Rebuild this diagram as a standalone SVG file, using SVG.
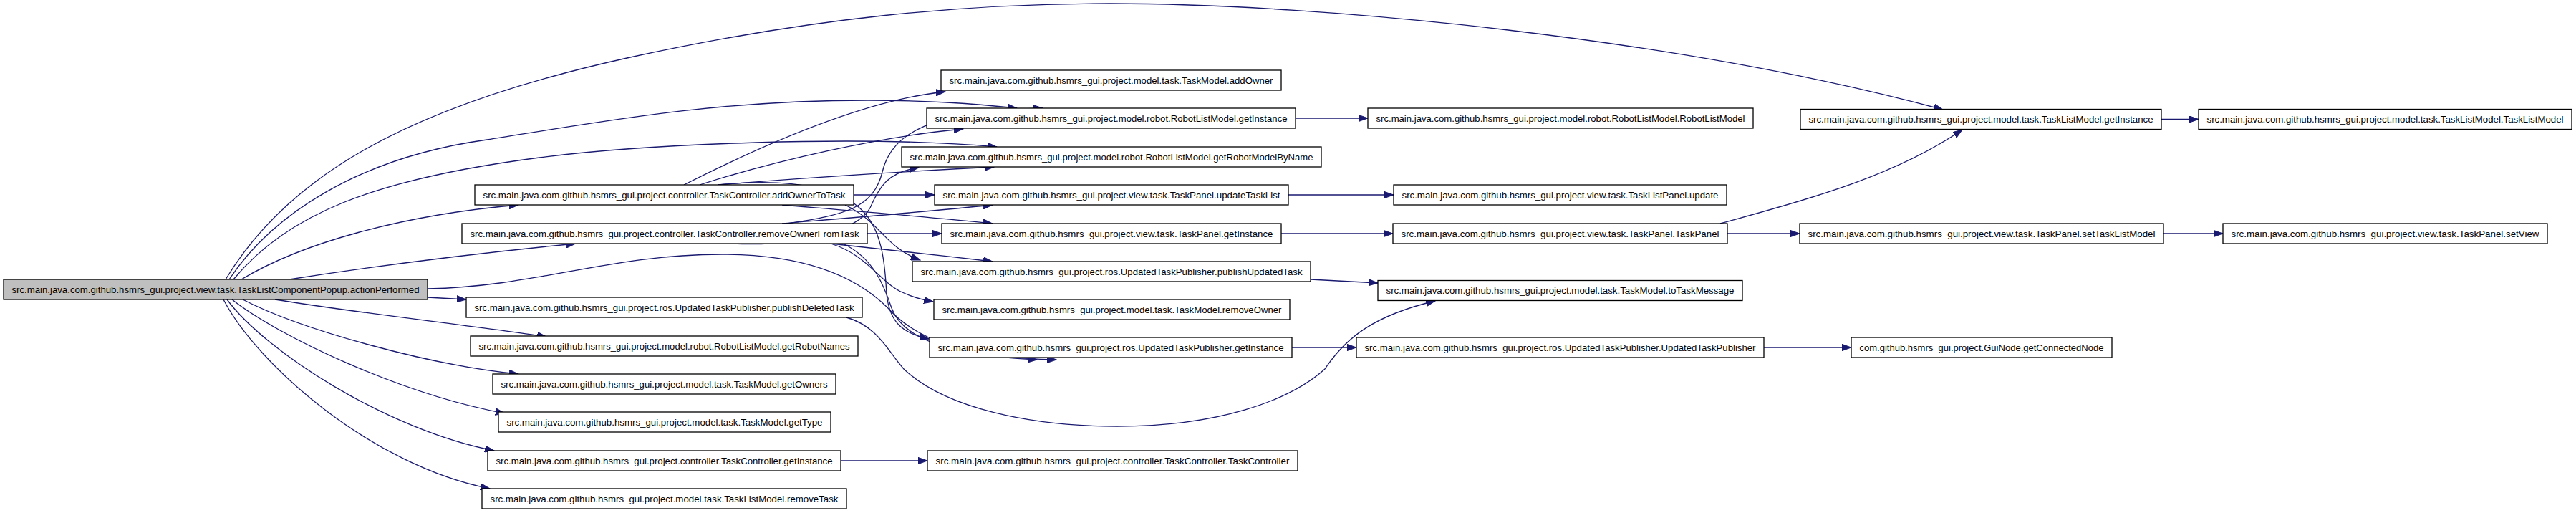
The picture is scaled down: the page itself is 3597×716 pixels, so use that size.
<svg xmlns="http://www.w3.org/2000/svg" width="3597" height="716" viewBox="0 0 3597 716">
<style>
.node rect{fill:#ffffff;stroke:#000000;stroke-width:1.3}
.root rect{fill:#bfbfbf}
.node text{font-family:"Liberation Sans",Arial,sans-serif;font-size:13.3px;fill:#000000;text-anchor:middle}
.edges path{fill:none;stroke:#191970;stroke-width:1.3;marker-end:url(#arr)}
</style>
<defs>
<marker id="arr" markerUnits="userSpaceOnUse" markerWidth="14" markerHeight="10" refX="13" refY="5" orient="auto" viewBox="0 0 14 10">
<path d="M0,0.4 L13,5 L0,9.6 z" fill="#191970" stroke="#191970" stroke-width="1"/>
</marker>
</defs>
<rect width="3597" height="716" fill="#ffffff"/>
<g class="edges">
<path d="M315,390 C400,250 560,150 880,80 C1136,24 1350,5 1550,5 C1850,5 2350,55 2713,153"/>
<path d="M320,390 C380,300 500,220 680,195 C850,168 1000,140 1212,140 C1300,140 1360,145 1420,151"/>
<path d="M326,390 C400,300 520,250 753,220 C900,201 1200,188 1392,205"/>
<path d="M337,390 C420,340 560,300 724,286"/>
<path d="M404,390 C500,375 650,355 804,340"/>
<path d="M597,403 C750,400 850,355 1008,355 C1130,355 1200,390 1240,430 C1280,475 1350,500 1475,502"/>
<path d="M597,415 L651,418"/>
<path d="M384,418 C500,437 650,453 763,470"/>
<path d="M339,418 C420,460 600,510 724,522"/>
<path d="M324,418 C390,470 560,550 705,577"/>
<path d="M317,418 C370,490 540,600 690,629"/>
<path d="M312,418 C360,510 520,650 684,682"/>
<path d="M955,258 C1050,210 1200,140 1320,128"/>
<path d="M977,258 C1080,225 1230,190 1345,180"/>
<path d="M1003,258 C1100,250 1250,240 1388,233"/>
<path d="M1192,272 L1305,272"/>
<path d="M1092,286 C1200,295 1300,303 1386,312"/>
<path d="M1180,286 C1230,310 1235,345 1285,363"/>
<path d="M1003,258 C1080,250 1160,255 1200,290 C1235,320 1236,380 1238,410 C1242,450 1260,465 1297,473"/>
<path d="M1211,326 L1315,326"/>
<path d="M1092,312 C1200,303 1300,295 1386,286"/>
<path d="M1160,340 C1230,348 1310,356 1386,365"/>
<path d="M1160,340 C1210,355 1230,395 1260,408 C1275,415 1285,418 1303,421"/>
<path d="M1177,340 C1220,360 1235,400 1245,430 C1260,470 1320,497 1448,502"/>
<path d="M1023,340 C1120,345 1200,320 1215,290 C1228,260 1240,240 1283,234"/>
<path d="M1100,312 C1180,300 1220,290 1232,240 C1245,185 1300,155 1456,151"/>
<path d="M1809,165 L1910,165"/>
<path d="M1799,272 L1946,272"/>
<path d="M1789,326 L1945,326"/>
<path d="M2412,326 L2513,326"/>
<path d="M3021,326 L3104,326"/>
<path d="M3018,166.5 L3070,166.5"/>
<path d="M2402,312 C2500,285 2640,250 2740,181"/>
<path d="M1804,485 L1894,485"/>
<path d="M2463,485 L2585,485"/>
<path d="M1174,643 L1295,643"/>
<path d="M1830,390 L1924,395"/>
<path d="M1182,443 C1225,455 1240,490 1262,515 C1320,570 1440,595 1560,595 C1700,595 1800,560 1850,515 C1880,470 1920,440 2004,420"/>
</g>
<g id="n0" class="node root"><rect x="5" y="390" width="592" height="28"/><text x="301" y="408.7" textLength="569" lengthAdjust="spacingAndGlyphs">src.main.java.com.github.hsmrs_gui.project.view.task.TaskListComponentPopup.actionPerformed</text></g>
<g id="n1" class="node"><rect x="663" y="258" width="529" height="28"/><text x="927.5" y="276.7" textLength="506" lengthAdjust="spacingAndGlyphs">src.main.java.com.github.hsmrs_gui.project.controller.TaskController.addOwnerToTask</text></g>
<g id="n2" class="node"><rect x="645" y="312" width="566" height="28"/><text x="928" y="330.7" textLength="543" lengthAdjust="spacingAndGlyphs">src.main.java.com.github.hsmrs_gui.project.controller.TaskController.removeOwnerFromTask</text></g>
<g id="n14" class="node"><rect x="1314" y="98" width="475" height="28"/><text x="1551.5" y="116.7" textLength="452" lengthAdjust="spacingAndGlyphs">src.main.java.com.github.hsmrs_gui.project.model.task.TaskModel.addOwner</text></g>
<g id="n4" class="node"><rect x="1294" y="151" width="515" height="28"/><text x="1551.5" y="169.7" textLength="492" lengthAdjust="spacingAndGlyphs">src.main.java.com.github.hsmrs_gui.project.model.robot.RobotListModel.getInstance</text></g>
<g id="n5" class="node"><rect x="1259" y="205" width="586" height="28"/><text x="1552" y="223.7" textLength="563" lengthAdjust="spacingAndGlyphs">src.main.java.com.github.hsmrs_gui.project.model.robot.RobotListModel.getRobotModelByName</text></g>
<g id="n15" class="node"><rect x="1305" y="258" width="494" height="28"/><text x="1552" y="276.7" textLength="471" lengthAdjust="spacingAndGlyphs">src.main.java.com.github.hsmrs_gui.project.view.task.TaskPanel.updateTaskList</text></g>
<g id="n16" class="node"><rect x="1315" y="312" width="474" height="28"/><text x="1552" y="330.7" textLength="451" lengthAdjust="spacingAndGlyphs">src.main.java.com.github.hsmrs_gui.project.view.task.TaskPanel.getInstance</text></g>
<g id="n6" class="node"><rect x="1274" y="365" width="556" height="28"/><text x="1552" y="383.7" textLength="533" lengthAdjust="spacingAndGlyphs">src.main.java.com.github.hsmrs_gui.project.ros.UpdatedTaskPublisher.publishUpdatedTask</text></g>
<g id="n17" class="node"><rect x="1304" y="418" width="497" height="28"/><text x="1552.5" y="436.7" textLength="474" lengthAdjust="spacingAndGlyphs">src.main.java.com.github.hsmrs_gui.project.model.task.TaskModel.removeOwner</text></g>
<g id="n8" class="node"><rect x="1298" y="471" width="506" height="28"/><text x="1551" y="489.7" textLength="483" lengthAdjust="spacingAndGlyphs">src.main.java.com.github.hsmrs_gui.project.ros.UpdatedTaskPublisher.getInstance</text></g>
<g id="n7" class="node"><rect x="651" y="415" width="553" height="28"/><text x="927.5" y="433.7" textLength="530" lengthAdjust="spacingAndGlyphs">src.main.java.com.github.hsmrs_gui.project.ros.UpdatedTaskPublisher.publishDeletedTask</text></g>
<g id="n9" class="node"><rect x="657" y="469" width="541" height="28"/><text x="927.5" y="487.7" textLength="518" lengthAdjust="spacingAndGlyphs">src.main.java.com.github.hsmrs_gui.project.model.robot.RobotListModel.getRobotNames</text></g>
<g id="n10" class="node"><rect x="688" y="522" width="479" height="28"/><text x="927.5" y="540.7" textLength="456" lengthAdjust="spacingAndGlyphs">src.main.java.com.github.hsmrs_gui.project.model.task.TaskModel.getOwners</text></g>
<g id="n11" class="node"><rect x="696" y="575" width="464" height="28"/><text x="928" y="593.7" textLength="441" lengthAdjust="spacingAndGlyphs">src.main.java.com.github.hsmrs_gui.project.model.task.TaskModel.getType</text></g>
<g id="n12" class="node"><rect x="681" y="629" width="493" height="28"/><text x="927.5" y="647.7" textLength="470" lengthAdjust="spacingAndGlyphs">src.main.java.com.github.hsmrs_gui.project.controller.TaskController.getInstance</text></g>
<g id="n13" class="node"><rect x="673" y="682" width="509" height="28"/><text x="927.5" y="700.7" textLength="486" lengthAdjust="spacingAndGlyphs">src.main.java.com.github.hsmrs_gui.project.model.task.TaskListModel.removeTask</text></g>
<g id="n18" class="node"><rect x="1295" y="629" width="517" height="28"/><text x="1553.5" y="647.7" textLength="494" lengthAdjust="spacingAndGlyphs">src.main.java.com.github.hsmrs_gui.project.controller.TaskController.TaskController</text></g>
<g id="n19" class="node"><rect x="1910" y="151" width="538" height="28"/><text x="2179" y="169.7" textLength="515" lengthAdjust="spacingAndGlyphs">src.main.java.com.github.hsmrs_gui.project.model.robot.RobotListModel.RobotListModel</text></g>
<g id="n20" class="node"><rect x="1946" y="258" width="465" height="28"/><text x="2178.5" y="276.7" textLength="442" lengthAdjust="spacingAndGlyphs">src.main.java.com.github.hsmrs_gui.project.view.task.TaskListPanel.update</text></g>
<g id="n21" class="node"><rect x="1945" y="312" width="467" height="28"/><text x="2178.5" y="330.7" textLength="444" lengthAdjust="spacingAndGlyphs">src.main.java.com.github.hsmrs_gui.project.view.task.TaskPanel.TaskPanel</text></g>
<g id="n22" class="node"><rect x="1924" y="391.5" width="509" height="28"/><text x="2178.5" y="410.2" textLength="486" lengthAdjust="spacingAndGlyphs">src.main.java.com.github.hsmrs_gui.project.model.task.TaskModel.toTaskMessage</text></g>
<g id="n23" class="node"><rect x="1894" y="471" width="569" height="28"/><text x="2178.5" y="489.7" textLength="546" lengthAdjust="spacingAndGlyphs">src.main.java.com.github.hsmrs_gui.project.ros.UpdatedTaskPublisher.UpdatedTaskPublisher</text></g>
<g id="n3" class="node"><rect x="2514" y="152.5" width="504" height="28"/><text x="2766" y="171.2" textLength="481" lengthAdjust="spacingAndGlyphs">src.main.java.com.github.hsmrs_gui.project.model.task.TaskListModel.getInstance</text></g>
<g id="n26" class="node"><rect x="3070" y="152.5" width="521" height="28"/><text x="3330.5" y="171.2" textLength="498" lengthAdjust="spacingAndGlyphs">src.main.java.com.github.hsmrs_gui.project.model.task.TaskListModel.TaskListModel</text></g>
<g id="n24" class="node"><rect x="2513" y="312" width="508" height="28"/><text x="2767" y="330.7" textLength="485" lengthAdjust="spacingAndGlyphs">src.main.java.com.github.hsmrs_gui.project.view.task.TaskPanel.setTaskListModel</text></g>
<g id="n27" class="node"><rect x="3104" y="312" width="453" height="28"/><text x="3330.5" y="330.7" textLength="430" lengthAdjust="spacingAndGlyphs">src.main.java.com.github.hsmrs_gui.project.view.task.TaskPanel.setView</text></g>
<g id="n25" class="node"><rect x="2585" y="471" width="364" height="28"/><text x="2767" y="489.7" textLength="341" lengthAdjust="spacingAndGlyphs">com.github.hsmrs_gui.project.GuiNode.getConnectedNode</text></g>
</svg>
